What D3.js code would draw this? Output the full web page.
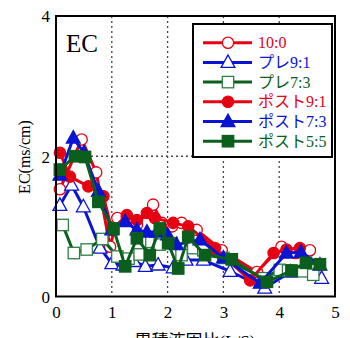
<!DOCTYPE html>
<html><head><meta charset="utf-8">
<script src="https://cdn.jsdelivr.net/npm/d3@7"></script>
<style>html,body{margin:0;padding:0;background:#fff;}</style>
</head><body>
<svg id="c" width="350" height="338"></svg>
<script>
const xTicks = [0,1,2,3,4,5];
const yTicks = [0,2,4];
const seriesNames = ["10:0","プレ9:1","プレ7:3","ポスト9:1","ポスト7:3","ポスト5:5"];

const x_10_0 = [0.07,0.46,0.72,0.97,1.1,1.27,1.45,1.74,1.9,2.08,2.25,2.52,2.97,3.6,4.04,4.3,4.55];
const y_10_0 = [1.53,2.24,1.77,0.71,1.12,1.12,1.02,1.31,1.05,1.0,1.05,0.95,0.66,0.35,0.71,0.62,0.66];

const x_pre91 = [0.07,0.28,0.49,0.79,1.0,1.2,1.4,1.6,1.83,2.1,2.33,2.64,3.12,3.74,4.2,4.5,4.76];
const y_pre91 = [1.3,1.59,1.28,0.69,0.47,0.45,0.5,0.43,0.45,0.41,0.52,0.52,0.36,0.12,0.35,0.38,0.26];

const x_pre73 = [0.12,0.32,0.55,0.83,1.1,1.3,1.5,1.71,1.86,2.07,2.25,2.46,2.64,3.0,3.72,4.01,4.16,4.43,4.61];
const y_pre73 = [1.02,0.62,0.67,0.82,0.57,0.54,0.6,0.78,0.74,0.76,0.59,0.69,0.66,0.55,0.26,0.38,0.37,0.36,0.31];

const x_post91 = [0.07,0.25,0.58,0.85,1.0,1.27,1.45,1.63,1.77,2.1,2.37,2.85,3.48,3.9,4.13,4.37];
const y_post91 = [2.05,1.71,1.57,1.43,0.95,1.16,1.09,1.19,1.12,1.05,1.0,0.69,0.23,0.62,0.67,0.69];

const x_post73 = [0.07,0.31,0.5,0.76,1.0,1.24,1.45,1.63,1.81,2.0,2.16,2.58,3.0,3.66,4.13,4.39,4.73];
const y_post73 = [1.73,2.26,2.05,1.5,0.95,1.07,0.95,0.92,0.92,0.88,0.74,0.81,0.55,0.19,0.62,0.63,0.45];

const x_post55 = [0.07,0.34,0.52,0.76,1.03,1.24,1.45,1.68,1.86,2.01,2.19,2.37,2.67,3.15,3.78,4.22,4.48,4.73];
const y_post55 = [1.81,2.0,1.99,1.35,0.97,0.43,0.83,0.59,0.97,0.76,0.40,0.85,0.59,0.53,0.21,0.37,0.48,0.46];

const RED="#e60012", BLUE="#0a14d2", GREEN="#0b5e1c", GREEN2="#2f7d45";
const series = [
  {name:seriesNames[0], xs:x_10_0, ys:y_10_0, color:RED, shape:"circle", fill:false},
  {name:seriesNames[1], xs:x_pre91, ys:y_pre91, color:BLUE, shape:"triangle", fill:false},
  {name:seriesNames[2], xs:x_pre73, ys:y_pre73, color:GREEN, mcolor:GREEN2, shape:"square", fill:false},
  {name:seriesNames[3], xs:x_post91, ys:y_post91, color:RED, shape:"circle", fill:true},
  {name:seriesNames[4], xs:x_post73, ys:y_post73, color:BLUE, shape:"triangle", fill:true},
  {name:seriesNames[5], xs:x_post55, ys:y_post55, color:GREEN, shape:"square", fill:true}
];

const svg = d3.select("#c");
const L=56, R=335, T=16, B=296.5;
const x = d3.scaleLinear().domain([0,5]).range([L,R]);
const y = d3.scaleLinear().domain([0,4]).range([B,T]);
const serif = "'Liberation Serif','Times New Roman',serif";

// grid
const g = svg.append("g");
g.selectAll(".gx").data(xTicks.slice(1,-1)).enter().append("line")
  .attr("x1",d=>x(d)).attr("x2",d=>x(d)).attr("y1",T).attr("y2",B)
  .attr("stroke","#444").attr("stroke-width",1.3).attr("stroke-dasharray","2,3");
g.selectAll(".gy").data(yTicks.slice(1,-1)).enter().append("line")
  .attr("y1",d=>y(d)).attr("y2",d=>y(d)).attr("x1",L).attr("x2",R)
  .attr("stroke","#444").attr("stroke-width",1.3).attr("stroke-dasharray","2,3");

// axes
const xAxis = svg.append("g").attr("transform",`translate(0,${B})`)
  .call(d3.axisBottom(x).tickValues(xTicks).tickSize(0).tickPadding(12).tickFormat(d3.format("d")));
const yAxis = svg.append("g").attr("transform",`translate(${L},0)`)
  .call(d3.axisLeft(y).tickValues(yTicks).tickSize(0).tickPadding(6).tickFormat(d3.format("d")));
[xAxis,yAxis].forEach(a=>{
  a.select(".domain").remove();
  a.selectAll("text").attr("font-family",serif).attr("font-size",17).attr("fill","#000");
});
xAxis.selectAll("text").attr("dy","0.55em");
yAxis.selectAll("text").attr("dy","0.35em");

function sym(sel, s, size){
  sel.each(function(d){
    const el=d3.select(this);
    const mc = s.mcolor||s.color;
    const fill = s.fill ? s.color : "#fff";
    if(s.shape==="circle"){
      el.append("circle").attr("r",size*0.47).attr("fill",fill).attr("stroke",mc).attr("stroke-width",1.3);
    } else if(s.shape==="triangle"){
      const h=size*1.0, w=size*1.15;
      el.append("path").attr("d",`M0,${-h*0.62}L${w/2},${h*0.42}L${-w/2},${h*0.42}Z`)
        .attr("fill",fill).attr("stroke",mc).attr("stroke-width",1.3);
    } else {
      const a=size*0.95;
      el.append("rect").attr("x",-a/2).attr("y",-a/2).attr("width",a).attr("height",a)
        .attr("fill",fill).attr("stroke",mc).attr("stroke-width",1.3);
    }
  });
}

const line = d3.line().x(d=>x(d[0])).y(d=>y(d[1]));
series.forEach(s=>{
  const pts = s.xs.map((v,i)=>[v,s.ys[i]]);
  const gg = svg.append("g");
  gg.append("path").datum(pts).attr("d",line).attr("fill","none")
    .attr("stroke",s.color).attr("stroke-width",3).attr("stroke-linejoin","round");
  gg.selectAll("g.m").data(pts).enter().append("g")
    .attr("transform",d=>`translate(${x(d[0])},${y(d[1])})`).call(sym, s, 12);
});

// frame
svg.append("rect").attr("x",L).attr("y",T).attr("width",R-L).attr("height",B-T)
  .attr("fill","none").attr("stroke","#000").attr("stroke-width",2);

// EC label
svg.append("text").attr("x",66).attr("y",52).text("EC")
  .attr("font-family",serif).attr("font-size",25).attr("fill","#000");

// legend
const lg = svg.append("g");
lg.append("rect").attr("x",193).attr("y",24).attr("width",139).attr("height",133)
  .attr("fill","#fff").attr("stroke","#000").attr("stroke-width",2);
series.forEach((s,i)=>{
  const yy = 42.7 + i*19.7;
  lg.append("line").attr("x1",203).attr("x2",252).attr("y1",yy).attr("y2",yy)
    .attr("stroke",s.color).attr("stroke-width",3);
  lg.append("g").attr("transform",`translate(228,${yy})`).datum(0).call(sym,s,12);
  lg.append("text").attr("x",258).attr("y",yy+5.5).text(s.name)
    .attr("font-family","'Liberation Serif','Noto Sans CJK JP',serif").attr("font-size",16)
    .attr("fill",s.color);
});

// axis titles
svg.append("text").attr("transform","translate(30,157) rotate(-90)")
  .attr("text-anchor","middle").text("EC(ms/cm)")
  .attr("font-family",serif).attr("font-size",16).attr("fill","#000");
svg.append("text").attr("x",195).attr("y",347).attr("text-anchor","middle")
  .text("累積液固比(L/S)")
  .attr("font-family","'Liberation Serif','Noto Sans CJK JP',serif").attr("font-size",17).attr("fill","#000");
</script>
</body></html>
